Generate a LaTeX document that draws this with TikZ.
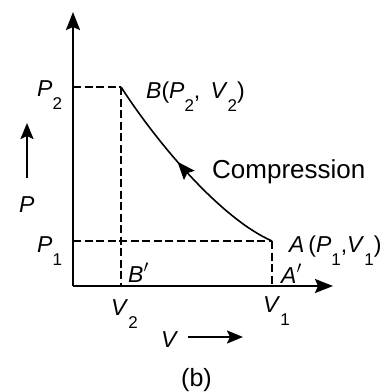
\documentclass[tikz,border=0pt]{standalone}
\usepackage{fontspec}
\setmainfont{Liberation Sans}
\usetikzlibrary{arrows.meta,decorations.markings}
\newcommand{\lowsub}[1]{\raisebox{-13pt}{\fontsize{17}{17}\selectfont #1}}
\tikzset{
  lbl/.style={inner sep=0pt, anchor=base west, font=\fontsize{23}{23}\selectfont},
  axis/.style={line width=2pt, -{Stealth[length=18pt,width=14pt,inset=3pt]}},
  dimarrow/.style={line width=2pt, -{Stealth[length=16pt,width=13pt,inset=3pt]}},
  guide/.style={line width=1.5pt, dash pattern=on 8pt off 3.5pt},
  curveline/.style={line width=1.6pt}
}
\begin{document}
\begin{tikzpicture}[x=1pt,y=-1pt]
\useasboundingbox (0,0) rectangle (386,392);
% key points
\coordinate (O) at (73,286);
\coordinate (ytip) at (73,12);
\coordinate (xtip) at (333,286);
\coordinate (B) at (121,87);
\coordinate (A) at (272,241);
\coordinate (P2pt) at (73,87);
\coordinate (P1pt) at (73,241);
\coordinate (Bp) at (121,286);
\coordinate (Ap) at (272,286);
% axes
\draw[axis] (O) -- (ytip);
\draw[axis] (O) -- (xtip);
% guides
\draw[guide] (P2pt) -- (B);
\draw[guide] (B) -- (Bp);
\draw[guide] (P1pt) -- (A);
\draw[guide] (A) -- (Ap);
% compression curve
\draw[curveline, postaction={decorate}, decoration={markings,
  mark=at position 0.57 with {\arrow{Stealth[length=18pt,width=14pt,inset=3pt]}}}]
  (A) .. controls (222,219) and (160,147) .. (B);
% direction arrows
\coordinate (Pbot) at (27,178);
\coordinate (Ptop) at (27,123);
\draw[dimarrow] (Pbot) -- (Ptop);
\coordinate (Vl) at (188,337);
\coordinate (Vr) at (243,337);
\draw[dimarrow] (Vl) -- (Vr);
% labels
\node[lbl] (lP2) at (37,96) {\textit{P}\lowsub{2}};
\node[lbl] (lB) at (146,98) {\textit{B}(\textit{P}\lowsub{2}, \,\textit{V}\lowsub{2})};
\node[lbl, font=\fontsize{26}{26}\selectfont] (lC) at (212,178) {Compression};
\node[lbl] (lP) at (19,212) {\textit{P}};
\node[lbl] (lP1) at (37,252) {\textit{P}\lowsub{1}};
\node[lbl] (lBp) at (128,282) {\textit{B}$'$};
\node[lbl] (lA) at (289,252) {\textit{A}\,(\textit{P}\lowsub{1},\textit{V}\lowsub{1})};
\node[lbl] (lAp) at (281,283) {\textit{A}$'$};
\node[lbl] (lV2) at (111,315) {\textit{V}\lowsub{2}};
\node[lbl] (lV1) at (263,312) {\textit{V}\lowsub{1}};
\node[lbl] (lV) at (161,347) {\textit{V}};
\node[lbl, font=\fontsize{25}{25}\selectfont] (lb) at (181,386) {(b)};
\end{tikzpicture}
\end{document}
